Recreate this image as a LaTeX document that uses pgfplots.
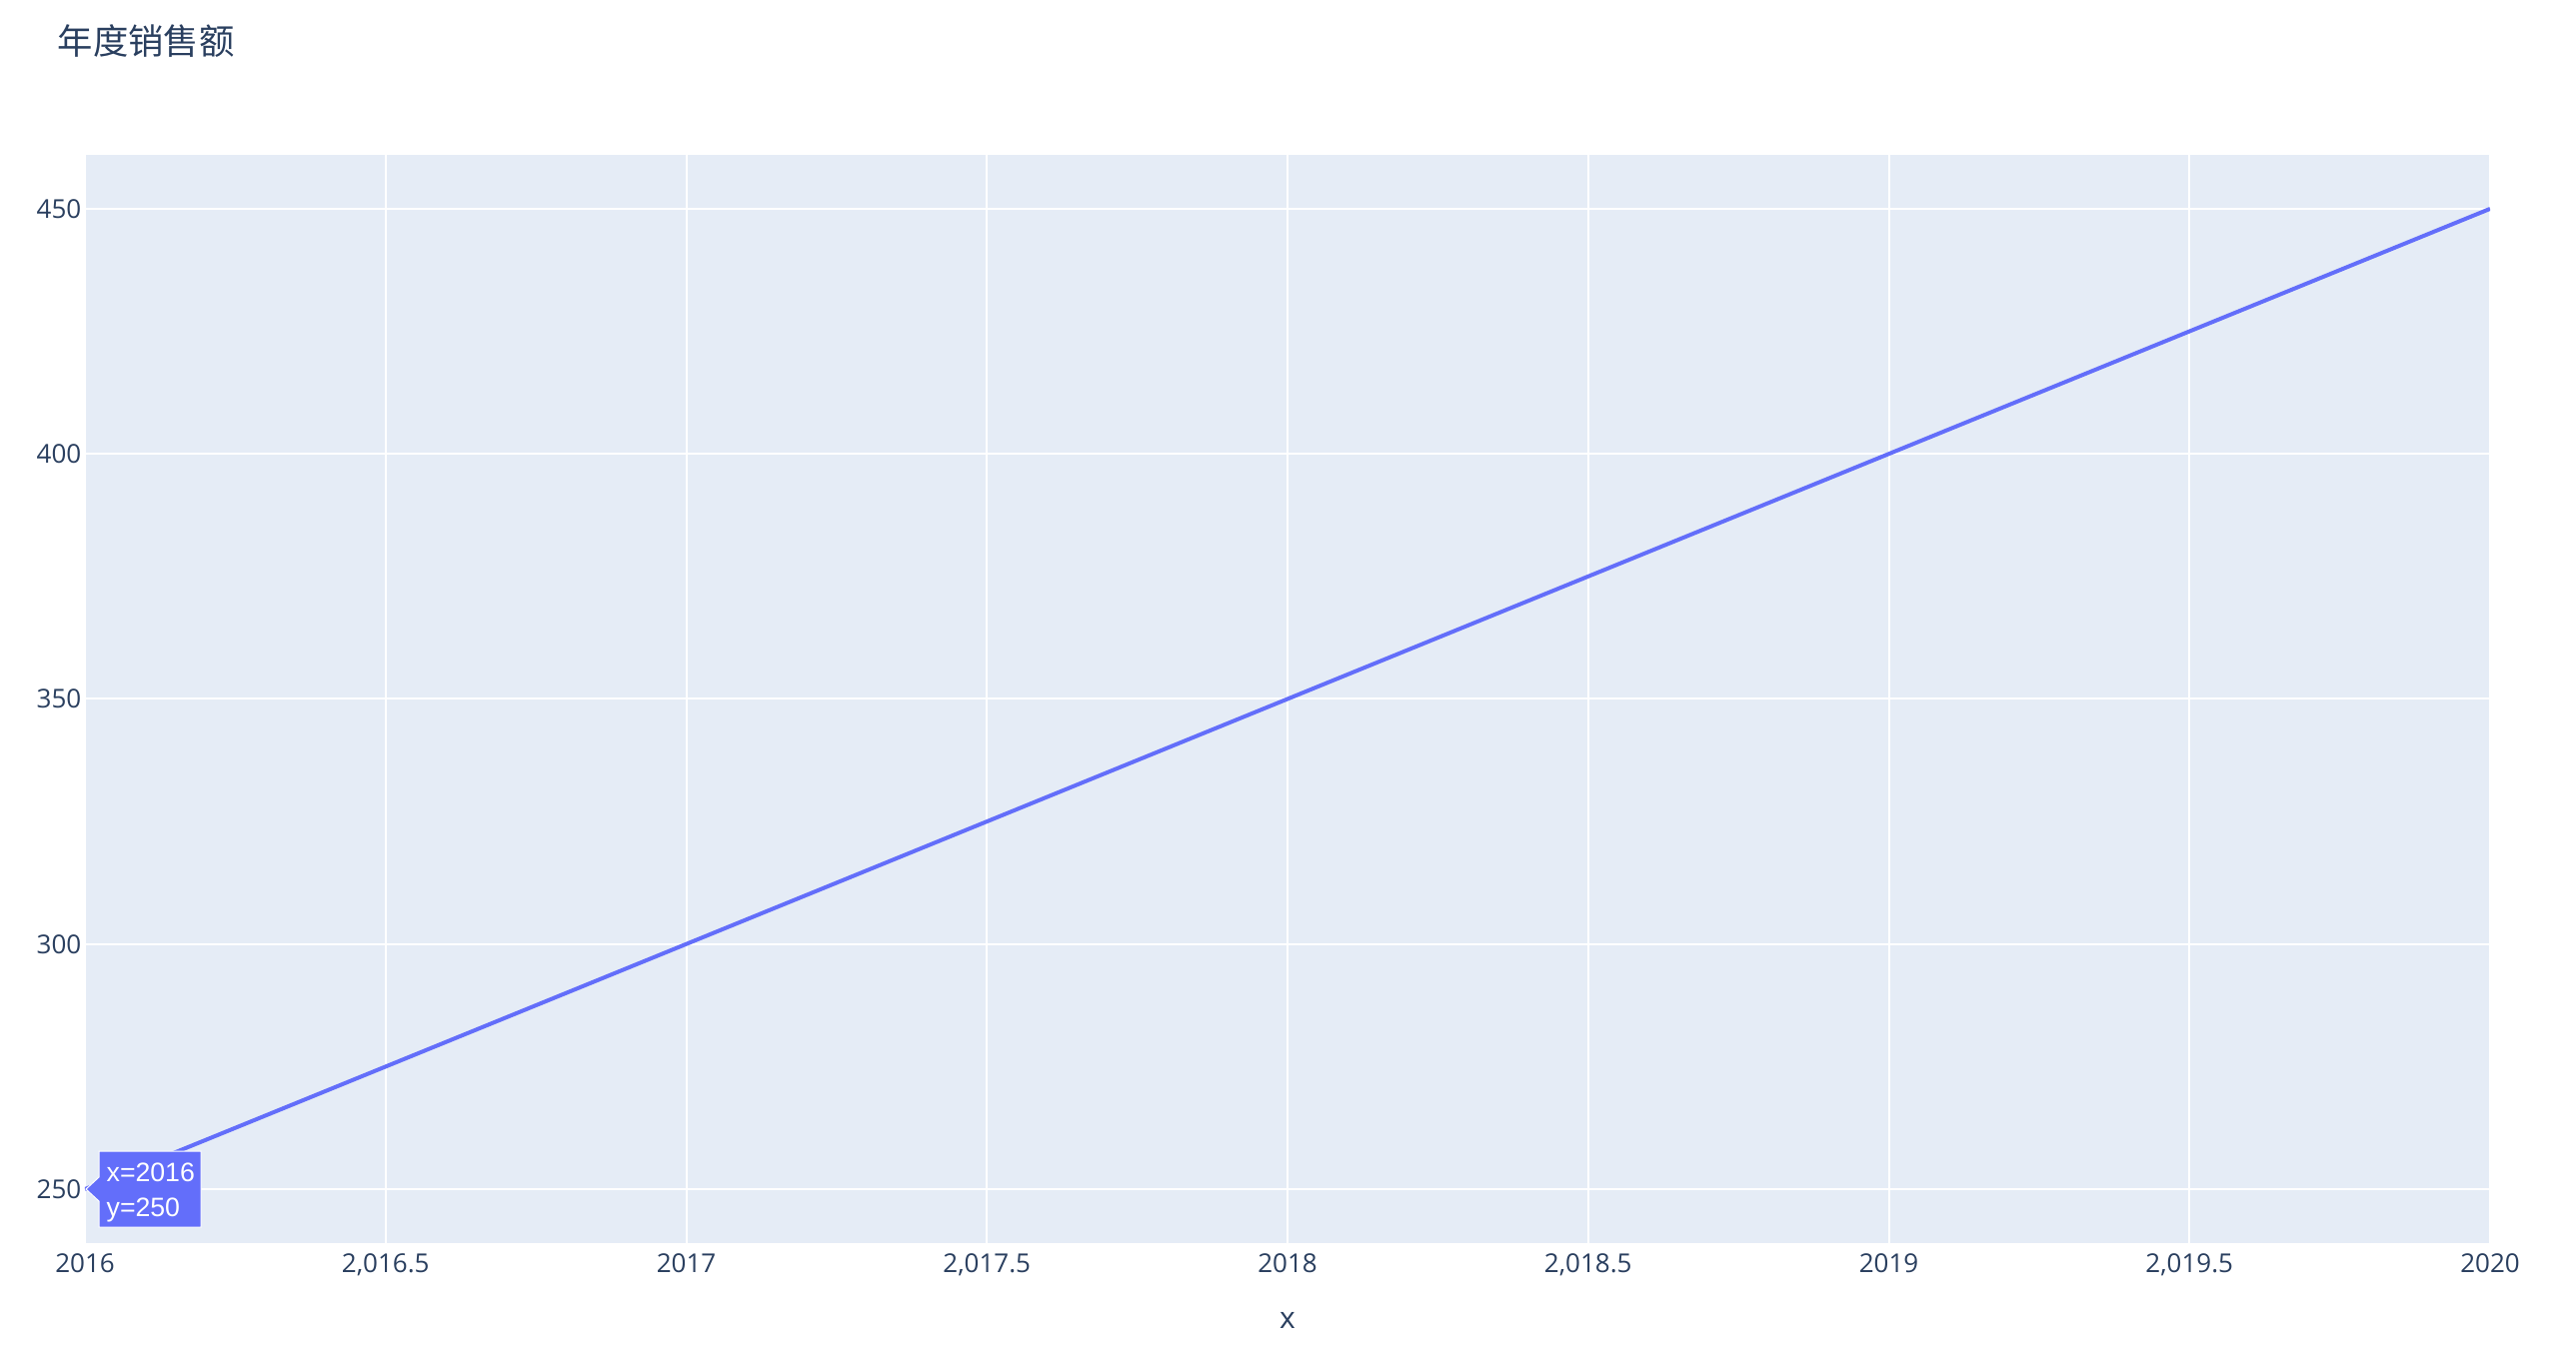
\documentclass[border=0pt]{standalone}
\usepackage{fontspec}
\setmainfont{Open Sans}
\newfontfamily\cjk{Noto Sans CJK SC}
\newfontfamily\arial{Liberation Sans}
\usepackage{pgfplots}
\pgfplotsset{compat=1.18}
\definecolor{bgc}{HTML}{E5ECF6}
\definecolor{txt}{HTML}{2A3F5F}
\definecolor{linec}{HTML}{636EFA}
\begin{document}
\begin{tikzpicture}
\path[fill=white] (0,0) rectangle (773.1pt,409.8pt);
\node[anchor=base west, inner sep=0pt, text=txt, font=\cjk\fontsize{10.6}{12.5}\selectfont] at (17.1pt,393.5pt) {年度销售额};
\begin{axis}[
  at={(25.5pt,36.6pt)}, anchor=south west,
  scale only axis, width=721.8pt, height=326.7pt,
  xmin=2016, xmax=2020, ymin=239, ymax=461,
  xtick={2016,2016.5,2017,2017.5,2018,2018.5,2019,2019.5,2020},
  xticklabels={2016,{2,016.5},2017,{2,017.5},2018,{2,018.5},2019,{2,019.5},2020},
  ytick={250,300,350,400,450},
  /pgf/number format/assume math mode=true,
  axis background/.style={fill=bgc},
  axis line style={draw=none},
  major tick length=0pt,
  grid=major,
  grid style={white, line width=0.6pt},
  ticklabel style={text=txt, font=\fontsize{7.8}{9}\selectfont},
  xticklabel style={anchor=base, yshift=-8.7pt},
  yticklabel style={anchor=east, inner sep=0pt, xshift=-0.9pt},
  xlabel={x},
  xlabel style={at={(axis description cs:0.5,0)}, anchor=base, yshift=-25.5pt, inner sep=0pt, text=txt, font=\fontsize{9}{11}\selectfont},
]
\addplot[linec, line width=1.2pt, mark=none] coordinates {(2016,250) (2017,300) (2018,350) (2019,400) (2020,450)};
\coordinate (p) at (axis cs:2016,250);
\end{axis}
\path[fill=linec, draw=white, line width=0.3pt]
  ([xshift=0.3pt]p) -- ++(3.9pt,3.6pt) -- ++(0pt,7.8pt) -- ++(30.6pt,0pt) -- ++(0pt,-22.8pt) -- ++(-30.6pt,0pt) -- ++(0pt,7.8pt) -- cycle;
\node[anchor=base west, inner sep=0pt, text=white, font=\arial\fontsize{8}{9}\selectfont] at ([xshift=6.3pt,yshift=2.4pt]p) {x=2016};
\node[anchor=base west, inner sep=0pt, text=white, font=\arial\fontsize{8}{9}\selectfont] at ([xshift=6.3pt,yshift=-8.1pt]p) {y=250};
\end{tikzpicture}
\end{document}
